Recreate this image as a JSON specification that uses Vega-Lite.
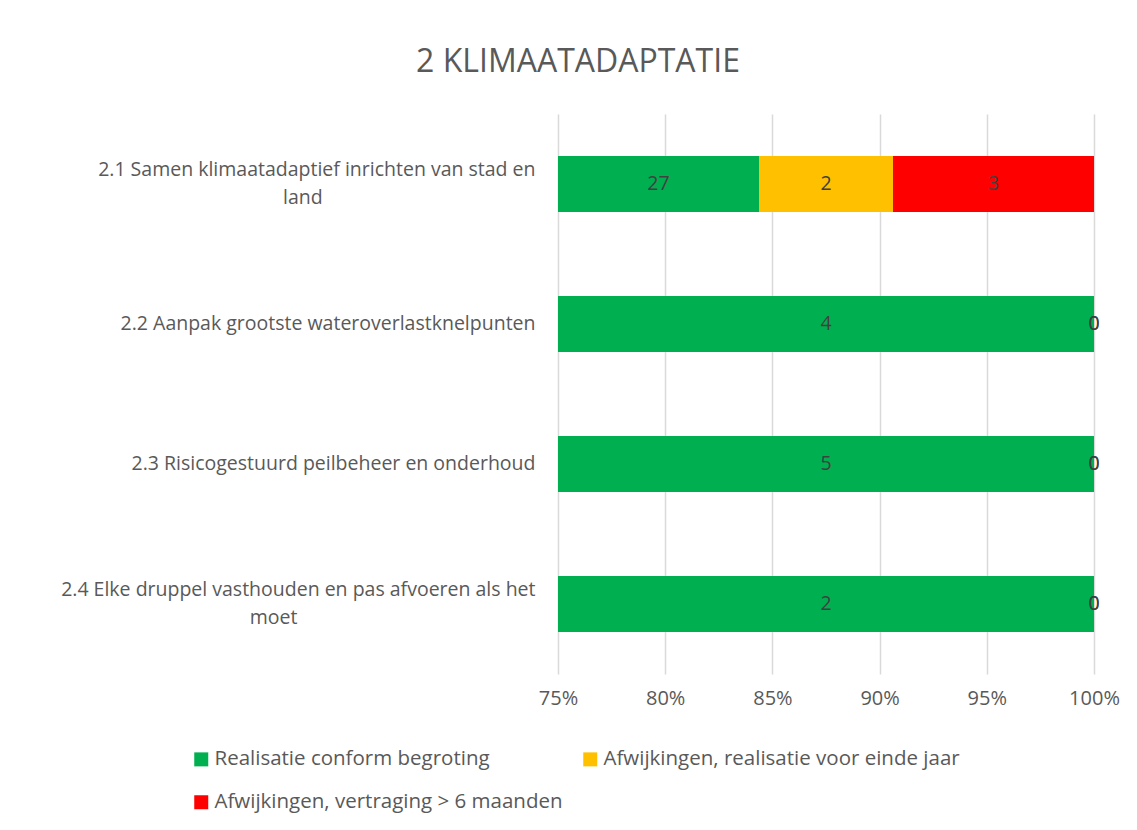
{
  "$schema": "https://vega.github.io/schema/vega-lite/v6.json",
  "width": 536,
  "height": 560,
  "autosize": {"type": "none"},
  "padding": {"left": 558, "top": 114, "right": 43, "bottom": 156},
  "background": "white",
  "title": {
    "text": "2 KLIMAATADAPTATIE",
    "font": "Open Sans",
    "fontSize": 32,
    "fontWeight": "normal",
    "color": "#595959",
    "anchor": "middle",
    "dx": -248,
    "dy": 32,
    "offset": 42,
    "baseline": "alphabetic"
  },
  "data": {
    "values": [
      {"cat": "2.1 Samen klimaatadaptief inrichten van stad en land", "status": "Realisatie conform begroting", "n": 27},
      {"cat": "2.1 Samen klimaatadaptief inrichten van stad en land", "status": "Afwijkingen, realisatie voor einde jaar", "n": 2},
      {"cat": "2.1 Samen klimaatadaptief inrichten van stad en land", "status": "Afwijkingen, vertraging > 6 maanden", "n": 3},
      {"cat": "2.2 Aanpak grootste wateroverlastknelpunten", "status": "Realisatie conform begroting", "n": 4},
      {"cat": "2.2 Aanpak grootste wateroverlastknelpunten", "status": "Afwijkingen, realisatie voor einde jaar", "n": 0},
      {"cat": "2.2 Aanpak grootste wateroverlastknelpunten", "status": "Afwijkingen, vertraging > 6 maanden", "n": 0},
      {"cat": "2.3 Risicogestuurd peilbeheer en onderhoud", "status": "Realisatie conform begroting", "n": 5},
      {"cat": "2.3 Risicogestuurd peilbeheer en onderhoud", "status": "Afwijkingen, realisatie voor einde jaar", "n": 0},
      {"cat": "2.3 Risicogestuurd peilbeheer en onderhoud", "status": "Afwijkingen, vertraging > 6 maanden", "n": 0},
      {"cat": "2.4 Elke druppel vasthouden en pas afvoeren als het moet", "status": "Realisatie conform begroting", "n": 2},
      {"cat": "2.4 Elke druppel vasthouden en pas afvoeren als het moet", "status": "Afwijkingen, realisatie voor einde jaar", "n": 0},
      {"cat": "2.4 Elke druppel vasthouden en pas afvoeren als het moet", "status": "Afwijkingen, vertraging > 6 maanden", "n": 0}
    ]
  },
  "transform": [
    {"stack": "n", "groupby": ["cat"], "offset": "normalize", "as": ["x0", "x1"]},
    {"calculate": "(max(datum.x0, 0.75) + datum.x1) / 2", "as": "mid"}
  ],
  "encoding": {
    "y": {
      "field": "cat",
      "type": "nominal",
      "sort": null,
      "scale": {"paddingInner": 0.6, "paddingOuter": 0.3},
      "axis": {
        "title": null,
        "ticks": false,
        "domain": false,
        "labelPadding": 23,
        "labelFont": "Open Sans",
        "labelFontSize": 19.5,
        "labelColor": "#595959",
        "labelLimit": 0,
        "labelLineHeight": 28,
        "labelOffset": {
          "condition": {
            "test": "datum.value == '2.1 Samen klimaatadaptief inrichten van stad en land' || datum.value == '2.4 Elke druppel vasthouden en pas afvoeren als het moet'",
            "value": -14
          },
          "value": 0
        },
        "labelExpr": "datum.label == '2.1 Samen klimaatadaptief inrichten van stad en land' ? ['2.1 Samen klimaatadaptief inrichten van stad en', pad('land', 46, '\u00a0', 'right') + '\u2060'] : datum.label == '2.4 Elke druppel vasthouden en pas afvoeren als het moet' ? ['2.4 Elke druppel vasthouden en pas afvoeren als het', pad('moet', 51, '\u00a0', 'right') + '\u200b'] : datum.label"
      }
    }
  },
  "layer": [
    {
      "mark": {"type": "bar"},
      "encoding": {
        "x": {
          "field": "x0",
          "type": "quantitative",
          "scale": {"domain": [0.75, 1], "clamp": true, "nice": false, "zero": false},
          "axis": {
            "title": null,
            "values": [0.75, 0.8, 0.85, 0.9, 0.95, 1],
            "format": ".0%",
            "grid": true,
            "gridColor": "#D9D9D9",
            "gridWidth": 1.5,
            "domain": false,
            "ticks": false,
            "labelFlush": false,
            "labelPadding": 14,
            "labelFont": "Open Sans",
            "labelFontSize": 20,
            "labelColor": "#595959"
          }
        },
        "x2": {"field": "x1"},
        "color": {
          "field": "status",
          "type": "nominal",
          "scale": {
            "domain": ["Realisatie conform begroting", "Afwijkingen, realisatie voor einde jaar", "Afwijkingen, vertraging > 6 maanden"],
            "range": ["#00B050", "#FFC000", "#FF0000"]
          },
          "legend": {
            "orient": "none",
            "direction": "horizontal",
            "legendX": -367,
            "legendY": 635,
            "columns": 2,
            "title": null,
            "padding": 0,
            "symbolType": "square",
            "symbolSize": 196,
            "symbolStrokeWidth": 0,
            "labelFont": "Open Sans",
            "labelFontSize": 20.5,
            "labelColor": "#595959",
            "labelOffset": 3,
            "labelLimit": 0,
            "rowPadding": 22,
            "columnPadding": 17
          }
        }
      }
    },
    {
      "mark": {"type": "text", "font": "Open Sans", "fontSize": 19.5, "color": "#404040", "baseline": "middle", "align": "center"},
      "encoding": {
        "x": {"field": "mid", "type": "quantitative"},
        "text": {"field": "n", "type": "quantitative"}
      }
    }
  ],
  "config": {
    "view": {"stroke": null}
  }
}
